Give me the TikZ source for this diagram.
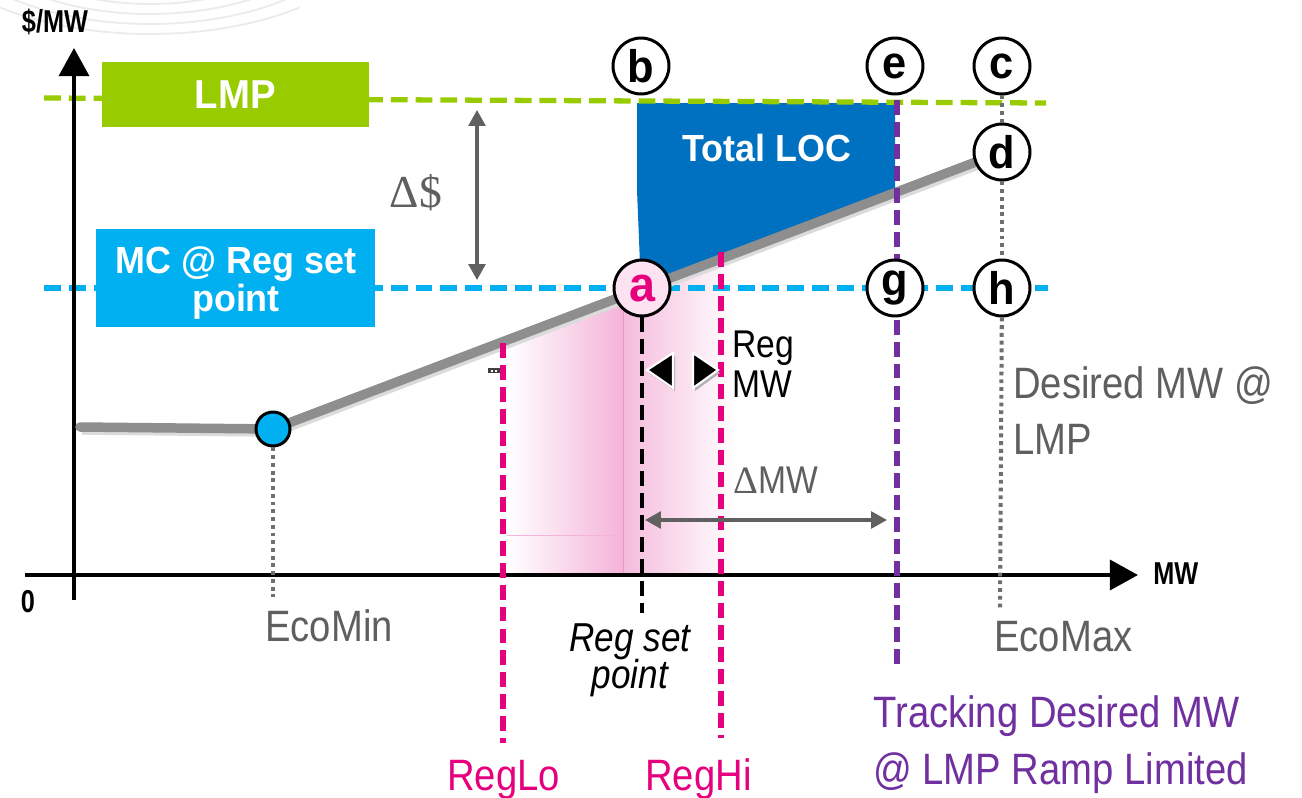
\documentclass[tikz,border=0pt]{standalone}
\usepackage{fontspec}
\setmainfont{Liberation Sans}[FakeStretch=0.87]
\newfontfamily\bsans{Liberation Sans}[FakeStretch=0.95]
\newfontfamily\csans{Liberation Sans}[FakeStretch=0.8]
\newfontfamily\dser{Liberation Serif}
\usetikzlibrary{arrows.meta}
\definecolor{lmpgreen}{HTML}{99CC00}
\definecolor{mccyan}{HTML}{00B0F0}
\definecolor{locblue}{HTML}{0070C0}
\definecolor{regpink}{HTML}{E6007E}
\definecolor{trkpurple}{HTML}{7030A0}
\definecolor{txtgray}{HTML}{5F5F5F}
\definecolor{crvgray}{HTML}{8E8E8E}
\definecolor{shadepink}{HTML}{F4B3D8}
\definecolor{apink}{HTML}{FDE3F1}
\definecolor{arrgray}{HTML}{606060}
\begin{document}
\begin{tikzpicture}[x=0.02cm,y=-0.02cm,
  circ/.style={circle,draw=black,line width=1.7pt,fill=white,minimum size=1.12cm,inner sep=0pt,
    font=\bsans\bfseries\fontsize{26}{26}\selectfont},
  gtext/.style={text=txtgray,inner sep=0pt,font=\fontsize{25}{32.3}\selectfont},
  axislbl/.style={inner sep=0pt,font=\csans\bfseries\fontsize{18}{18}\selectfont},
  axisline/.style={line width=2.3pt,black},
  axisarrow/.style={axisline,-{Triangle[length=16pt,width=17pt]}},
  hdash/.style={line width=3pt,dash pattern=on 9.6pt off 4.5pt},
  vdash/.style={line width=2.9pt,dash pattern=on 8.5pt off 4pt},
  vdot/.style={line width=2.3pt,txtgray!90,dash pattern=on 2.2pt off 2.2pt},
  dimarrow/.style={line width=1.8pt,arrgray,{Triangle[length=9pt,width=9.5pt]}-{Triangle[length=9pt,width=9.5pt]}},
  boxlbl/.style={inner sep=0pt,text=white,align=center,font=\bsans\bfseries\fontsize{21.5}{21.5}\selectfont},
  curve/.style={line width=5.4pt,crvgray},
  curveshadow/.style={line width=5.4pt,black!14},
  regtri/.style={fill=black,draw=white,line width=1.2pt,line join=miter}
]
% bounding box / background
\fill[white] (0,0) rectangle (1302,798);
\useasboundingbox (0,0) rectangle (1302,798);
% faint background arcs
\begin{scope}
\clip (0,0) rectangle (300,70);
\foreach \r in {110,135,160,185,210,235}
  \draw[gray!16,line width=1pt] (150,-\r*0.15-60) ellipse ({\r*1.05} and {\r*0.55});
\end{scope}
% pink regulation shading
\shade[left color=white,right color=shadepink] (507,341) -- (623,297) -- (623,575) -- (507,575) -- cycle;
\shade[left color=shadepink!90,right color=white] (623,297) -- (736,255) -- (736,575) -- (623,575) -- cycle;
\draw[shadepink,line width=0.4pt] (507,535) -- (623,535);
\draw[shadepink!140,line width=0.4pt] (623,305) -- (623,575);
% Total LOC area
\fill[locblue] (637,103) -- (895,103) -- (895,193) -- (641,289) -- (637,190) -- cycle;
\node[boxlbl] (loc) at (767,148) {Total LOC};
% horizontal dashed lines
\coordinate (lmpL) at (44,98);
\coordinate (lmpR) at (1046,103);
\coordinate (mcL) at (44,288);
\coordinate (mcR) at (1048,288);
\draw[hdash,lmpgreen] (lmpL) -- (lmpR);
\draw[hdash,mccyan] (mcL) -- (mcR);
% boxes
\node[fill=lmpgreen,minimum width=5.34cm,minimum height=1.3cm,inner sep=0pt,text=white,
  font=\bsans\bfseries\fontsize{23}{23}\selectfont] (lmp) at (235.5,94.5) {LMP};
\node[fill=mccyan,minimum width=5.58cm,minimum height=1.96cm,inner sep=0pt] (mcbox) at (235.5,278) {};
\node[boxlbl] (mc) at (236,283) {MC @ Reg set\\point};
% axes
\coordinate (xa0) at (25,575);
\coordinate (xa1) at (1138,575);
\coordinate (ya0) at (74,600);
\coordinate (ya1) at (74,48);
\draw[axisarrow] (xa0) -- (xa1);
\draw[axisarrow] (ya0) -- (ya1);
\node[axislbl] (ylbl) at (55,22) {\$/MW};
\node[axislbl] (zero) at (28,602) {0};
\node[axislbl,anchor=west] (xlbl) at (1153,574) {MW};
% circles positions
\coordinate (flat0) at (80,427);
\coordinate (eminpt) at (273,429);
\coordinate (dpt) at (1002,152);
% supply curve
\draw[curveshadow] ([shift={(2,3)}]flat0) -- ([shift={(2,3)}]eminpt) -- ([shift={(2,3)}]dpt);
\draw[curve,line cap=round] (flat0) -- (eminpt) -- (dpt);
% vertical lines
\coordinate (rlo0) at (503,343);
\coordinate (rlo1) at (503,743);
\coordinate (rhi0) at (721,252);
\coordinate (rhi1) at (721,738);
\coordinate (trk0) at (897,100);
\coordinate (trk1) at (897,668);
\coordinate (rsp1) at (642,613);
\coordinate (emin1) at (273,597);
\coordinate (emax1) at (1000,608);
\draw[vdash,regpink] (rlo0) -- (rlo1);
\draw[vdash,regpink] (rhi0) -- (rhi1);
\draw[vdash,trkpurple] (trk0) -- (trk1);
% circle nodes
\node[circ] (b) at (641,66) {b};
\node[circ] (e) at (895,66) {e};
\node[circ] (c) at (1002,66) {c};
\node[circ] (d) at (1002,152) {d};
\node[circ] (g) at (895,288) {g};
\node[circ] (h) at (1002,288) {h};
\node[circ,fill=apink,text=regpink,font=\bsans\bfseries\fontsize{28}{28}\selectfont] (a) at (642,288) {a};
\node[circle,draw=black,line width=1.7pt,fill=mccyan,minimum size=0.68cm,inner sep=0pt] (emin) at (eminpt) {};
\draw[vdash,black,line width=2.4pt] (a) -- (rsp1);
\draw[vdot] (emin) -- (emin1);
\draw[vdot] (c) -- (d);
\draw[vdot] (d) -- (h);
\draw[vdot] (h) -- (emax1);
% tiny mark
\fill[black!75] (488,368) rectangle (500,373);
\fill[white] (491,369.5) rectangle (493,371.5);
\fill[white] (495,369.5) rectangle (497,371.5);
% dimension arrows
\coordinate (ds0) at (477,110);
\coordinate (ds1) at (477,280);
\draw[dimarrow] (ds0) -- (ds1);
\node[text=txtgray,inner sep=0pt,font=\dser\fontsize{26}{26}\selectfont] (dsl) at (416,193) {Δ\$};
\coordinate (dm0) at (645,520);
\coordinate (dm1) at (887,520);
\draw[dimarrow] (dm0) -- (dm1);
\node[gtext,anchor=base west,font=\fontsize{22}{22}\selectfont] (dml) at (733,493) {{\dser Δ}MW};
% Reg MW triangles
\fill[black!30] (649,373) -- (675,356) -- (675,391) -- cycle;
\fill[black!30] (720,373) -- (695,356) -- (695,391) -- cycle;
\filldraw[regtri] (647,370) -- (673,353) -- (673,388) -- cycle;
\filldraw[regtri] (718,370) -- (693,353) -- (693,388) -- cycle;
\node[anchor=north west,inner sep=0pt,align=left,font=\fontsize{22}{22.7}\selectfont] (regmw) at (732,331) {Reg\\MW};
% labels
\node[gtext,anchor=base west] (ecomin) at (265,641) {EcoMin};
\node[gtext,anchor=base west] (ecomax) at (994,651) {EcoMax};
\node[gtext,anchor=north west,align=left] (desired) at (1013,366) {Desired MW @\\LMP};
\node[anchor=north,inner sep=0pt,align=center,
  font=\itshape\fontsize{23}{21.5}\selectfont] (rsp) at (630,623) {Reg set\\point};
\node[gtext,text=regpink,anchor=base west] (reglo) at (447,790) {RegLo};
\node[gtext,text=regpink,anchor=base west] (reghi) at (645,790) {RegHi};
\node[gtext,text=trkpurple,anchor=north west,align=left,font=\fontsize{25}{32.9}\selectfont] (track) at (873,695) {Tracking Desired MW\\@ LMP Ramp Limited};
\end{tikzpicture}
\end{document}
